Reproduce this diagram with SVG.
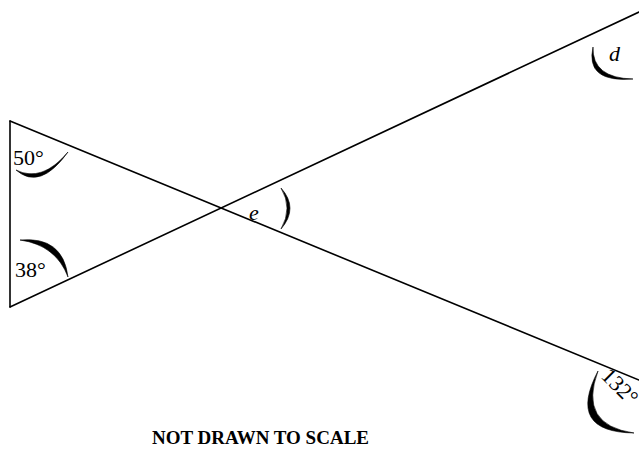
<svg xmlns="http://www.w3.org/2000/svg" width="639" height="472" viewBox="0 0 639 472">
<style>
.ln{stroke:#000;stroke-width:1.6;fill:none;stroke-linecap:round}
.arc{fill:#000;stroke:#000;stroke-width:0.6}
.lbl{font-family:"Liberation Serif",serif;font-size:22px;fill:#000}
.it{font-style:italic}
</style>
<rect width="639" height="472" fill="#fff"/>
<g id="connectors">
<line class="ln" x1="10" y1="121" x2="10" y2="307"/>
<line class="ln" x1="10" y1="121" x2="639" y2="380"/>
<line class="ln" x1="10" y1="307" x2="639" y2="12"/>
</g>
<g id="angle-50">
<path class="arc" d="M16,170 Q40,191 68,152 Q42,183 16,170 Z"/>
<text class="lbl" x="13" y="165">50°</text>
</g>
<g id="angle-38">
<path class="arc" d="M20,240 Q63,236 68,277 Q56,245 20,240 Z"/>
<text class="lbl" x="15" y="277">38°</text>
</g>
<g id="angle-e">
<path class="arc" d="M281,188 Q299,208 281,229 Q293,208 281,188 Z"/>
<text class="lbl it" x="249" y="220">e</text>
</g>
<g id="angle-d">
<path class="arc" d="M593,47 Q585,83 633,79 Q592,78 593,47 Z"/>
<text class="lbl it" x="609" y="61">d</text>
</g>
<g id="angle-132">
<path class="arc" d="M598,371 Q566,432 634,433 Q578,425 598,371 Z"/>
<text class="lbl" x="0" y="0" transform="translate(600,377) rotate(45)">132°</text>
</g>
<g id="caption">
<text x="152" y="444" style="font-family:'Liberation Serif',serif;font-size:19px;font-weight:bold;fill:#000">NOT DRAWN TO SCALE</text>
</g>
</svg>
